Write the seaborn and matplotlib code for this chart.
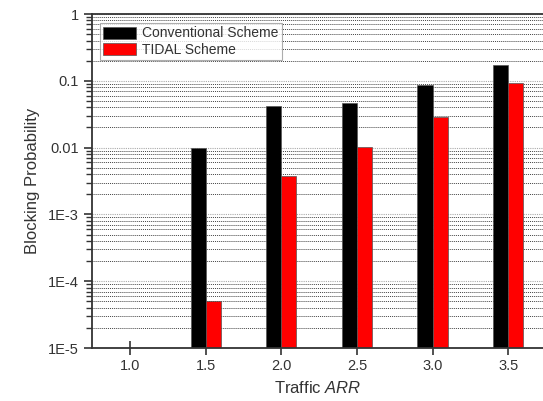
import matplotlib
matplotlib.use("Agg")
import matplotlib.pyplot as plt
import matplotlib.ticker as mticker
import numpy as np
import pandas as pd
import seaborn as sns

# ---- data ----
traffic = ["1.0", "1.5", "2.0", "2.5", "3.0", "3.5"]
conventional = [np.nan, 0.0097, 0.042, 0.047, 0.086, 0.172]
tidal = [np.nan, 5.0e-5, 0.0037, 0.0103, 0.0284, 0.093]
series_names = ["Conventional Scheme", "TIDAL Scheme"]
ytick_values = [1e-5, 1e-4, 1e-3, 1e-2, 1e-1, 1]
ytick_labels = ["1E-5", "1E-4", "1E-3", "0.01", "0.1", "1"]

df = pd.DataFrame({
    "Traffic": traffic * 2,
    "Scheme": [series_names[0]] * len(traffic) + [series_names[1]] * len(traffic),
    "Value": conventional + tidal,
})

sns.set_theme(style="white")
plt.rcParams["font.family"] = ["Liberation Sans", "DejaVu Sans"]
plt.rcParams["mathtext.fontset"] = "custom"
plt.rcParams["mathtext.rm"] = "Liberation Sans"
plt.rcParams["mathtext.it"] = "Liberation Sans:italic"

fig = plt.figure(figsize=(5.43, 4.01), dpi=100)
ax = fig.add_axes([92 / 543, 53 / 401, 1 - 92 / 543, 334 / 401])
ax.set_yscale("log")

sns.barplot(data=df, x="Traffic", y="Value", hue="Scheme", order=traffic,
            hue_order=series_names, palette=["#000000", "#ff0000"],
            width=0.4, edgecolor="#555555", linewidth=0.5, ax=ax,
            errorbar=None, saturation=1)

ax.set_ylim(1e-5, 1)
ax.set_xlim(-0.503, 5.46)

ax.yaxis.set_major_locator(mticker.FixedLocator(ytick_values))
ax.yaxis.set_major_formatter(mticker.FixedFormatter(ytick_labels))
ax.yaxis.set_minor_locator(mticker.LogLocator(base=10, subs=np.arange(2, 10)))
ax.yaxis.set_minor_formatter(mticker.NullFormatter())

ax.set_axisbelow(True)
ax.grid(True, which="major", axis="y", color="#aaaaaa", linestyle=(0, (1, 1)), linewidth=0.8)
ax.grid(True, which="minor", axis="y", color="#444444", linestyle=(0, (1, 1)), linewidth=0.7)
ax.grid(False, axis="x")

ax.tick_params(axis="y", which="major", direction="out", length=6, width=1.2,
               color="#333333", labelsize=10.5, labelcolor="#333333", left=True)
ax.tick_params(axis="y", which="minor", direction="out", length=4, width=1.0,
               color="#333333", left=True)
ax.tick_params(axis="x", which="major", direction="inout", length=10, width=1.2,
               color="#333333", labelsize=10.5, labelcolor="#333333", bottom=True, pad=3)

for s in ["left", "bottom", "top"]:
    ax.spines[s].set_color("#333333")
    ax.spines[s].set_linewidth(1.3)
ax.spines["right"].set_visible(False)

ax.set_ylabel("Blocking Probability", fontsize=12, color="#333333", labelpad=6)
ax.set_xlabel("Traffic $\\mathit{ARR}$", fontsize=12, color="#333333", labelpad=5)

leg = ax.legend(loc="upper left", bbox_to_anchor=(0.017, 0.973), frameon=True,
                fancybox=False, fontsize=10, handlelength=2.4, handleheight=1.0,
                borderpad=0.25, labelspacing=0.15, handletextpad=0.4, borderaxespad=0)
leg.get_frame().set_edgecolor("#999999")
leg.get_frame().set_linewidth(0.8)
for t in leg.get_texts():
    t.set_color("#333333")

fig.savefig("out.png", dpi=100)
